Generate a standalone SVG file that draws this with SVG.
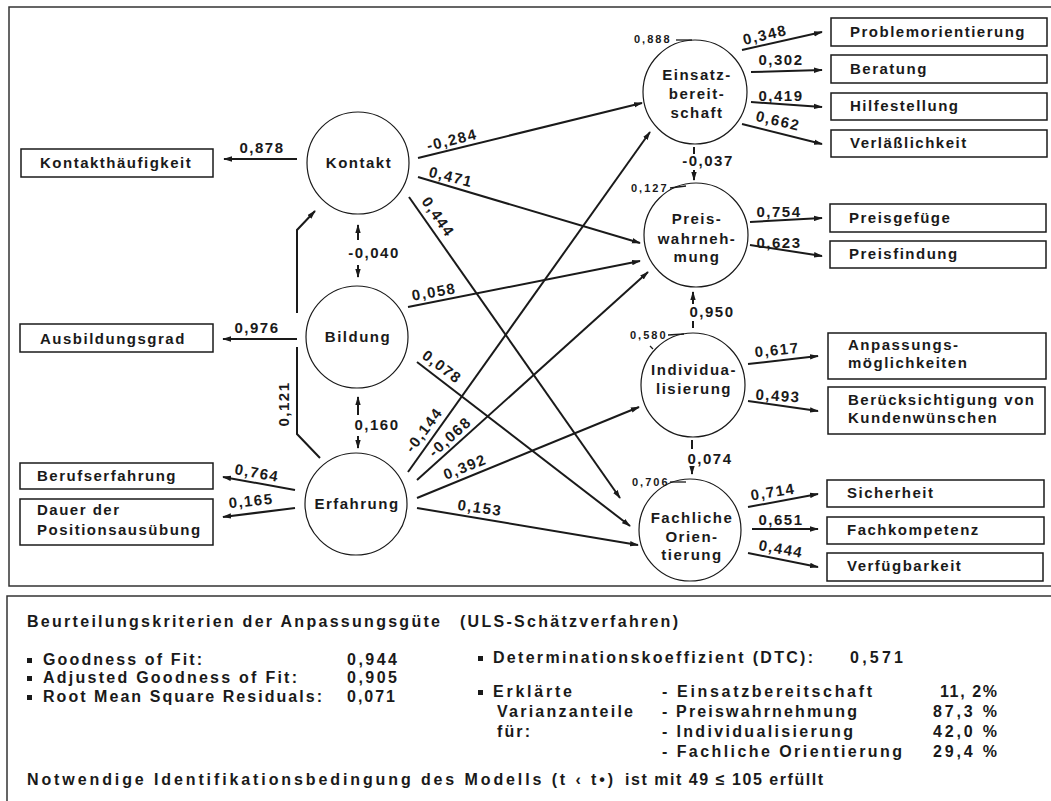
<svg xmlns="http://www.w3.org/2000/svg" width="1051" height="801" viewBox="0 0 1051 801">
<style>
text{font-family:"Liberation Sans",Arial,sans-serif;font-weight:bold;fill:#1a1a1a}
.n{font-size:15px;letter-spacing:1.5px}
.c{font-size:15px;letter-spacing:1.5px;text-anchor:middle}
.l{font-size:15px;letter-spacing:1.5px;text-anchor:middle}
.s{font-size:11px;letter-spacing:2px}
.b{font-size:16px}
.box{fill:#fff;stroke:#1a1a1a;stroke-width:1.5}
.circ{fill:#fff;stroke:#1a1a1a;stroke-width:1.2}
.e{fill:none;stroke:#1a1a1a;stroke-width:2;marker-end:url(#ah)}
.p{fill:none;stroke:#1a1a1a;stroke-width:2}
.d{fill:none;stroke:#1a1a1a;stroke-width:1.3}
.frame{fill:none;stroke:#333;stroke-width:1.5}
.bul{fill:#1a1a1a}
</style>
<defs>
<marker id="ah" viewBox="0 0 10 6" refX="9" refY="3" markerWidth="9" markerHeight="6" markerUnits="userSpaceOnUse" orient="auto"><path d="M0,0 L10,3 L0,6 z" fill="#1a1a1a"/></marker>
</defs>
<rect width="1051" height="801" fill="#fff"/>
<g id="frames">
<path class="frame" d="M1051,7 L9,7 L9,586 L1051,586"/>
<path class="frame" d="M1051,596 L7,596 L7,801"/>
</g>
<g id="connectors">
<path class="e" d="M297,159 L224,159"/>
<path class="e" d="M297,339 L223,339"/>
<path class="e" d="M295,490 L223,477"/>
<path class="e" d="M295,508 L223,517"/>
<path class="e" d="M320,458 L297,434 L297,347 M297,313 L297,230 L315,211"/>
<path class="e" d="M418,158 L642,103"/>
<path class="e" d="M418,177 L640,243"/>
<path class="e" d="M409,197 L620,498"/>
<path class="e" d="M408,307 L640,261"/>
<path class="e" d="M417,362 L630,526"/>
<path class="e" d="M408,472 L650,132"/>
<path class="e" d="M417,480 L648,272"/>
<path class="e" d="M417,498 L639,407"/>
<path class="e" d="M417,508 L638,545"/>
<path class="e" d="M742,50 L822,32"/>
<path class="e" d="M751,72 L822,70"/>
<path class="e" d="M751,102 L822,107"/>
<path class="e" d="M742,124 L822,144"/>
<path class="e" d="M750,222 L822,218"/>
<path class="e" d="M750,245 L822,256"/>
<path class="e" d="M748,364 L818,356"/>
<path class="e" d="M748,401 L818,411"/>
<path class="e" d="M748,507 L818,494"/>
<path class="e" d="M752,529 L818,529"/>
<path class="e" d="M748,553 L818,567"/>
<path class="e" d="M358,240 L358,225"/>
<path class="e" d="M358,265 L358,277"/>
<path class="e" d="M358,415 L358,397"/>
<path class="e" d="M358,436 L358,448"/>
<path class="p" d="M694,147 L694,154"/>
<path class="e" d="M694,170 L694,180"/>
<path class="e" d="M693,304 L693,292"/>
<path class="p" d="M693,321 L693,328"/>
<path class="p" d="M692,440 L692,449"/>
<path class="e" d="M692,466 L692,474"/>
</g>
<g id="kontakt"><circle class="circ" cx="358" cy="163" r="51"/><text class="c" x="359" y="168">Kontakt</text></g>
<g id="bildung"><circle class="circ" cx="357" cy="337" r="51"/><text class="c" x="358" y="342">Bildung</text></g>
<g id="erfahrung"><circle class="circ" cx="356" cy="504" r="51"/><text class="c" x="357" y="509">Erfahrung</text></g>
<g id="einsatzbereitschaft"><circle class="circ" cx="695" cy="92" r="52"/><text class="c" x="697" y="80">Einsatz-</text><text class="c" x="697" y="99">bereit-</text><text class="c" x="697" y="118">schaft</text></g>
<g id="preiswahrnehmung"><circle class="circ" cx="696" cy="235" r="52"/><text class="c" x="697" y="224">Preis-</text><text class="c" x="697" y="244">wahrneh-</text><text class="c" x="697" y="262">mung</text></g>
<g id="individualisierung"><circle class="circ" cx="693" cy="385" r="52"/><text class="c" x="694" y="375">Individua-</text><text class="c" x="694" y="394">lisierung</text></g>
<g id="fachliche-orientierung"><circle class="circ" cx="690" cy="530" r="51"/><text class="c" x="692" y="523">Fachliche</text><text class="c" x="692" y="542">Orien-</text><text class="c" x="692" y="560">tierung</text></g>
<g id="kontakthaeufigkeit"><rect class="box" x="21" y="149" width="192" height="28"/><text class="n" x="40" y="168">Kontakthäufigkeit</text></g>
<g id="ausbildungsgrad"><rect class="box" x="20" y="324" width="193" height="28"/><text class="n" x="40" y="344">Ausbildungsgrad</text></g>
<g id="berufserfahrung"><rect class="box" x="20" y="463" width="193" height="26"/><text class="n" x="37" y="481">Berufserfahrung</text></g>
<g id="dauer"><rect class="box" x="20" y="499" width="193" height="46"/><text class="n" x="37" y="515">Dauer der</text><text class="n" x="37" y="535">Positionsausübung</text></g>
<g id="problemorientierung"><rect class="box" x="831" y="18" width="216" height="28"/><text class="n" x="850" y="37">Problemorientierung</text></g>
<g id="beratung"><rect class="box" x="831" y="55" width="216" height="28"/><text class="n" x="850" y="74">Beratung</text></g>
<g id="hilfestellung"><rect class="box" x="831" y="93" width="216" height="27"/><text class="n" x="850" y="111">Hilfestellung</text></g>
<g id="verlaesslichkeit"><rect class="box" x="831" y="130" width="216" height="27"/><text class="n" x="850" y="148">Verläßlichkeit</text></g>
<g id="preisgefuege"><rect class="box" x="830" y="204" width="216" height="28"/><text class="n" x="849" y="223">Preisgefüge</text></g>
<g id="preisfindung"><rect class="box" x="830" y="241" width="216" height="27"/><text class="n" x="849" y="259">Preisfindung</text></g>
<g id="anpassungsmoeglichkeiten"><rect class="box" x="828" y="333" width="218" height="46"/><text class="n" x="848" y="350">Anpassungs-</text><text class="n" x="848" y="368">möglichkeiten</text></g>
<g id="beruecksichtigung"><rect class="box" x="828" y="387" width="217" height="47"/><text class="n" x="848" y="405">Berücksichtigung von</text><text class="n" x="848" y="423">Kundenwünschen</text></g>
<g id="sicherheit"><rect class="box" x="827" y="480" width="217" height="27"/><text class="n" x="847" y="498">Sicherheit</text></g>
<g id="fachkompetenz"><rect class="box" x="827" y="517" width="217" height="27"/><text class="n" x="847" y="535">Fachkompetenz</text></g>
<g id="verfuegbarkeit"><rect class="box" x="827" y="553" width="216" height="28"/><text class="n" x="847" y="571">Verfügbarkeit</text></g>
<g id="error-terms">
<path class="d" d="M676,40 L692,40"/>
<path class="d" d="M670,188 L686,186"/>
<path class="d" d="M668,335 L684,334 M650,346 L653,349"/>
<path class="d" d="M670,482 L686,482"/>
<text class="s" x="634" y="43">0,888</text>
<text class="s" x="631" y="192">0,127</text>
<text class="s" x="630" y="339">0,580</text>
<text class="s" x="632" y="486">0,706</text>
</g>
<g id="edge-labels">
<text class="l" transform="translate(262,148)" y="5">0,878</text>
<text class="l" transform="translate(257,328)" y="5">0,976</text>
<text class="l" transform="translate(257,473) rotate(10)" y="5">0,764</text>
<text class="l" transform="translate(251,501) rotate(-6)" y="5">0,165</text>
<text class="l" transform="translate(284,404) rotate(-90)" y="5">0,121</text>
<text class="l" transform="translate(374,253)" y="5">-0,040</text>
<text class="l" transform="translate(377,425)" y="5">0,160</text>
<text class="l" transform="translate(452,140) rotate(-14)" y="5">-0,284</text>
<text class="l" transform="translate(451,177) rotate(14)" y="5">0,471</text>
<text class="l" transform="translate(438,217) rotate(55)" y="5">0,444</text>
<text class="l" transform="translate(434,292) rotate(-10)" y="5">0,058</text>
<text class="l" transform="translate(442,367) rotate(37)" y="5">0,078</text>
<text class="l" transform="translate(424,430) rotate(-53)" y="5">-0,144</text>
<text class="l" transform="translate(450,437) rotate(-42)" y="5">-0,068</text>
<text class="l" transform="translate(465,467) rotate(-22)" y="5">0,392</text>
<text class="l" transform="translate(480,508) rotate(8)" y="5">0,153</text>
<text class="l" transform="translate(765,35) rotate(-13)" y="5">0,348</text>
<text class="l" transform="translate(781,60)" y="5">0,302</text>
<text class="l" transform="translate(781,96)" y="5">0,419</text>
<text class="l" transform="translate(778,121) rotate(13)" y="5">0,662</text>
<text class="l" transform="translate(708,161)" y="5">-0,037</text>
<text class="l" transform="translate(779,212)" y="5">0,754</text>
<text class="l" transform="translate(779,243)" y="5">0,623</text>
<text class="l" transform="translate(712,312)" y="5">0,950</text>
<text class="l" transform="translate(777,350) rotate(-6)" y="5">0,617</text>
<text class="l" transform="translate(778,396) rotate(4)" y="5">0,493</text>
<text class="l" transform="translate(710,459)" y="5">0,074</text>
<text class="l" transform="translate(773,492) rotate(-9)" y="5">0,714</text>
<text class="l" transform="translate(781,520)" y="5">0,651</text>
<text class="l" transform="translate(781,549) rotate(10)" y="5">0,444</text>
</g>
<g id="fit-criteria">
<text class="b" x="27" y="627" textLength="413" lengthAdjust="spacing">Beurteilungskriterien der Anpassungsgüte</text>
<text class="b" x="460" y="627" textLength="218" lengthAdjust="spacing">(ULS-Schätzverfahren)</text>
<rect class="bul" x="27" y="658" width="5" height="5"/>
<text class="b" x="43" y="665" textLength="159" lengthAdjust="spacing">Goodness of Fit:</text>
<text class="b" x="347" y="665" textLength="50" lengthAdjust="spacing">0,944</text>
<rect class="bul" x="27" y="676" width="5" height="5"/>
<text class="b" x="43" y="683" textLength="254" lengthAdjust="spacing">Adjusted Goodness of Fit:</text>
<text class="b" x="347" y="683" textLength="50" lengthAdjust="spacing">0,905</text>
<rect class="bul" x="27" y="695" width="5" height="5"/>
<text class="b" x="43" y="702" textLength="279" lengthAdjust="spacing">Root Mean Square Residuals:</text>
<text class="b" x="347" y="702" textLength="48" lengthAdjust="spacing">0,071</text>
<rect class="bul" x="478" y="656" width="5" height="5"/>
<text class="b" x="493" y="663" textLength="320" lengthAdjust="spacing">Determinationskoeffizient (DTC):</text>
<text class="b" x="850" y="663" textLength="53" lengthAdjust="spacing">0,571</text>
<rect class="bul" x="478" y="690" width="5" height="5"/>
<text class="b" x="493" y="697" textLength="79" lengthAdjust="spacing">Erklärte</text>
<text class="b" x="497" y="717" textLength="136" lengthAdjust="spacing">Varianzanteile</text>
<text class="b" x="497" y="737" textLength="33" lengthAdjust="spacing">für:</text>
<text class="b" x="662" y="697" textLength="210" lengthAdjust="spacing">- Einsatzbereitschaft</text>
<text class="b" x="662" y="717" textLength="195" lengthAdjust="spacing">- Preiswahrnehmung</text>
<text class="b" x="662" y="737" textLength="191" lengthAdjust="spacing">- Individualisierung</text>
<text class="b" x="662" y="757" textLength="240" lengthAdjust="spacing">- Fachliche Orientierung</text>
<text class="b" x="940" y="697" textLength="57" lengthAdjust="spacing">11, 2%</text>
<text class="b" x="933" y="717" textLength="64" lengthAdjust="spacing">87,3 %</text>
<text class="b" x="933" y="737" textLength="64" lengthAdjust="spacing">42,0 %</text>
<text class="b" x="933" y="757" textLength="64" lengthAdjust="spacing">29,4 %</text>
<text class="b" x="27" y="785" textLength="586" lengthAdjust="spacing">Notwendige Identifikationsbedingung des Modells (t ‹ t•)</text>
<text class="b" x="625" y="785" textLength="198" lengthAdjust="spacing">ist mit 49 ≤ 105 erfüllt</text>
</g>
</svg>
